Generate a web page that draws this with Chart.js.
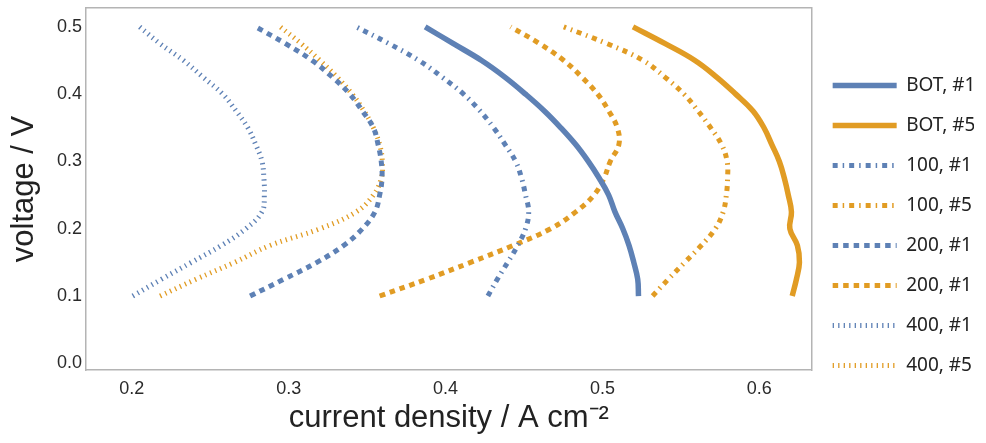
<!DOCTYPE html>
<html>
<head>
<meta charset="utf-8">
<script src="https://cdn.jsdelivr.net/npm/chart.js@4.4.1/dist/chart.umd.min.js"></script>
<style>
  html, body { margin: 0; padding: 0; background: #fff; }
  #wrap { width: 986px; height: 443px; }
</style>
</head>
<body>
<div id="wrap"><canvas id="ivChart" width="986" height="443"></canvas></div>
<script>
// cell voltage steps shared by every polarisation curve
const voltage = [0.1, 0.125, 0.15, 0.175, 0.2, 0.225, 0.25, 0.275, 0.3, 0.325, 0.35, 0.375, 0.4, 0.425, 0.45, 0.475, 0.5];

// current density (A cm^-2) at each voltage step
const botCell1 = [0.523, 0.5225, 0.520, 0.517, 0.513, 0.508, 0.504, 0.498, 0.491, 0.483, 0.4735, 0.463, 0.451, 0.438, 0.423, 0.405, 0.387];
const botCell5 = [0.621, 0.6237, 0.6256, 0.6243, 0.6195, 0.6205, 0.6185, 0.616, 0.6128, 0.608, 0.603, 0.596, 0.585, 0.573, 0.559, 0.540, 0.5195];
const h100Cell1 = [0.427, 0.433, 0.4396, 0.446, 0.451, 0.453, 0.451, 0.4485, 0.4447, 0.438, 0.4307, 0.422, 0.4115, 0.398, 0.383, 0.364, 0.343];
const h100Cell5 = [0.532, 0.542, 0.5525, 0.563, 0.572, 0.577, 0.579, 0.5798, 0.5795, 0.576, 0.569, 0.561, 0.552, 0.540, 0.526, 0.503, 0.4754];
const h200Cell1 = [0.2754, 0.297, 0.318, 0.335, 0.347, 0.355, 0.358, 0.3595, 0.359, 0.357, 0.354, 0.347, 0.339, 0.328, 0.315, 0.298, 0.279];
const h200Cell5 = [0.358, 0.388, 0.416, 0.443, 0.467, 0.483, 0.4946, 0.501, 0.505, 0.5105, 0.5095, 0.504, 0.497, 0.487, 0.4754, 0.460, 0.4415];
const h400Cell1 = [0.2006, 0.219, 0.238, 0.257, 0.2727, 0.283, 0.2845, 0.2842, 0.283, 0.279, 0.274, 0.2665, 0.258, 0.2455, 0.233, 0.218, 0.205];
const h400Cell5 = [0.218, 0.241, 0.2655, 0.288, 0.320, 0.343, 0.354, 0.359, 0.3597, 0.358, 0.354, 0.348, 0.3405, 0.331, 0.320, 0.308, 0.2946];

const seriesLabels = ['BOT, #1', 'BOT, #5', '100, #1', '100, #5', '200, #1', '200, #1', '400, #1', '400, #5'];
const seriesValues = [botCell1, botCell5, h100Cell1, h100Cell5, h200Cell1, h200Cell5, h400Cell1, h400Cell5];

const xTicks = [0.2, 0.3, 0.4, 0.5, 0.6];
const yTicks = [0.0, 0.1, 0.2, 0.3, 0.4, 0.5];

const BLUE = '#5e81b5';
const ORANGE = '#e19c24';
const seriesColors = [BLUE, ORANGE, BLUE, ORANGE, BLUE, ORANGE, BLUE, ORANGE];
const solid = [];
const dashDot = [5, 5, 1.5, 5];
const dashed = [5.5, 5];
const dotted = [1.3, 4.2];
const seriesDash = [solid, solid, dashDot, dashDot, dashed, dashed, dotted, dotted];

const datasets = seriesLabels.map((label, i) => ({
  label: label,
  data: voltage.map((v, k) => ({ x: seriesValues[i][k], y: v })),
  showLine: true,
  borderColor: seriesColors[i],
  backgroundColor: seriesColors[i],
  borderWidth: i < 2 ? 5.5 : 5,
  borderDash: seriesDash[i],
  borderCapStyle: 'butt',
  borderJoinStyle: 'round',
  pointRadius: 0,
  pointHoverRadius: 0,
  tension: 0.4,
  fill: false
}));

const frameColor = '#b4b4b4';
const tickFont = { family: '"Liberation Sans", Arial, sans-serif', size: 18 };
const titleFont = { family: '"Liberation Sans", Arial, sans-serif', size: 31 };

// plain frame edge on the top / right sides
function frameAxis(pos) {
  return {
    type: 'linear',
    position: pos,
    display: true,
    grid: { display: false, drawTicks: false },
    border: { display: true, color: frameColor, width: 1.5 },
    ticks: { display: false },
    afterFit: s => {
      if (pos === 'top') s.height = 0; else s.width = 0;
      s.paddingTop = s.paddingBottom = s.paddingLeft = s.paddingRight = 0;
    }
  };
}

new Chart(document.getElementById('ivChart'), {
  type: 'scatter',
  data: { datasets: datasets },
  options: {
    responsive: false,
    animation: false,
    layout: { padding: { top: 8, right: 12, bottom: 0, left: 0 } },
    plugins: {
      tooltip: { enabled: false },
      legend: {
        position: 'right',
        align: 'center',
        labels: {
          usePointStyle: true,
          pointStyleWidth: 64,
          padding: 21,
          color: '#222',
          font: { family: '"Noto Sans", sans-serif', size: 19 },
          generateLabels: chart => chart.data.datasets.map((ds, i) => ({
            text: ds.label,
            strokeStyle: ds.borderColor,
            fillStyle: ds.borderColor,
            lineWidth: ds.borderWidth,
            lineDash: ds.borderDash,
            lineCap: 'butt',
            pointStyle: 'line',
            fontColor: '#222',
            hidden: false,
            datasetIndex: i
          }))
        }
      }
    },
    scales: {
      x: {
        type: 'linear',
        min: 0.1708,
        max: 0.6334,
        grid: { display: false, drawTicks: false },
        border: { display: true, color: frameColor, width: 1.5 },
        ticks: { font: tickFont, color: '#2a2a2a', padding: 8, callback: v => v.toFixed(1) },
        afterBuildTicks: s => { s.ticks = xTicks.map(v => ({ value: v })); },
        afterFit: s => { s.height = 73; s.paddingLeft = 0; s.paddingRight = 0; },
        title: {
          display: true,
          text: 'current density / A cm⁻²',
          font: titleFont,
          color: '#222',
          padding: { top: 0, bottom: 6 }
        }
      },
      y: {
        type: 'linear',
        min: -0.00996,
        max: 0.528,
        grid: { display: false, drawTicks: false },
        border: { display: true, color: frameColor, width: 1.5 },
        ticks: { font: tickFont, color: '#2a2a2a', padding: 4, callback: v => v.toFixed(1) },
        afterBuildTicks: s => { s.ticks = yTicks.map(v => ({ value: v })); },
        afterFit: s => { s.width = 86; s.paddingTop = 0; s.paddingBottom = 0; },
        title: {
          display: true,
          text: 'voltage / V',
          font: titleFont,
          color: '#222',
          padding: { top: 6, bottom: 0 }
        }
      },
      xTop: frameAxis('top'),
      yRight: frameAxis('right')
    }
  }
});
</script>
</body>
</html>
